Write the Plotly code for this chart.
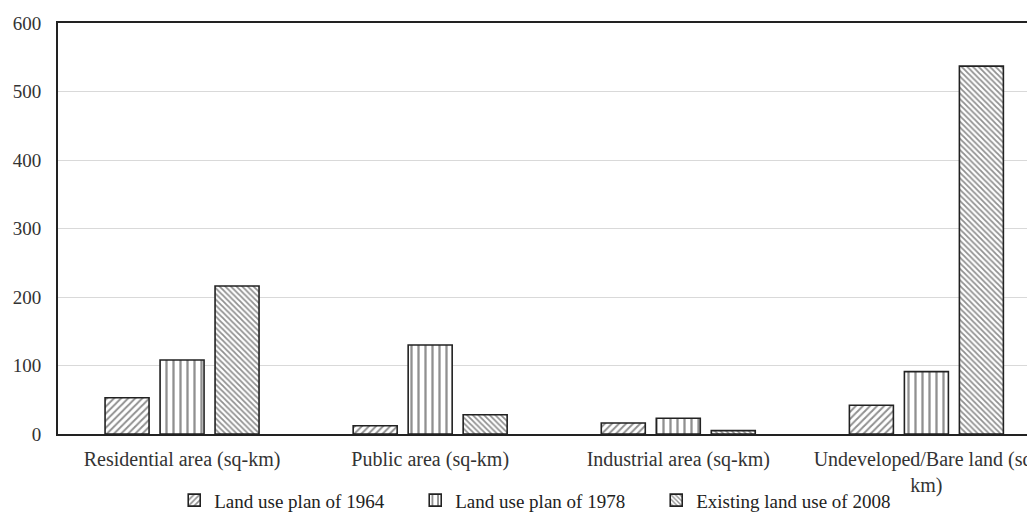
import plotly.graph_objects as go

categories = ["Residential area (sq-km)", "Public area (sq-km)", "Industrial area (sq-km)",
              "Undeveloped/Bare land (sq-<br>km)"]
plan_1964 = [53, 12, 16, 42]
plan_1978 = [108, 130, 23, 91]
existing_2008 = [216, 28, 5, 537]
series_names = ["Land use plan of 1964", "Land use plan of 1978", "Existing land use of 2008"]

patterns = [dict(shape="/", size=5, solidity=0.4), dict(shape="|", size=7, solidity=0.33),
            dict(shape="\\", size=4, solidity=0.45)]

fig = go.Figure()
for name, vals, pat in zip(series_names, [plan_1964, plan_1978, existing_2008], patterns):
    fig.add_trace(go.Bar(
        x=categories, y=vals, name=name,
        marker=dict(color="white", line=dict(color="#222", width=1.6),
                    pattern=dict(fgcolor="#222", bgcolor="white", fillmode="overlay", **pat)),
    ))

font = "Liberation Serif, Times New Roman, serif"
fig.update_layout(
    width=1035, height=513,
    margin=dict(l=50, r=0, t=15, b=87),
    paper_bgcolor="white", plot_bgcolor="white",
    barmode="group", bargap=0.335, bargroupgap=0.2,
    font=dict(family=font, size=20, color="#333"),
    showlegend=True,
    legend=dict(orientation="h", x=0.118, xanchor="left", y=-0.115, yanchor="top",
                font=dict(size=19, color="#222"), itemwidth=30, entrywidth=196,
                traceorder="normal"),
    xaxis=dict(range=[-0.5, 3.47], showgrid=False, showline=True, linecolor="#222", linewidth=2,
               mirror=True, ticks="", tickfont=dict(size=20, color="#333"), automargin=False,
               ticklabelstandoff=6),
    yaxis=dict(range=[0, 600], dtick=100, showgrid=True, gridcolor="#d9d9d9", gridwidth=1,
               showline=True, linecolor="#222", linewidth=2, mirror=True, ticks="",
               tickfont=dict(size=19, color="#333"), zeroline=False, automargin=False,
               ticklabelstandoff=11),
)
fig.write_html("out.html")
